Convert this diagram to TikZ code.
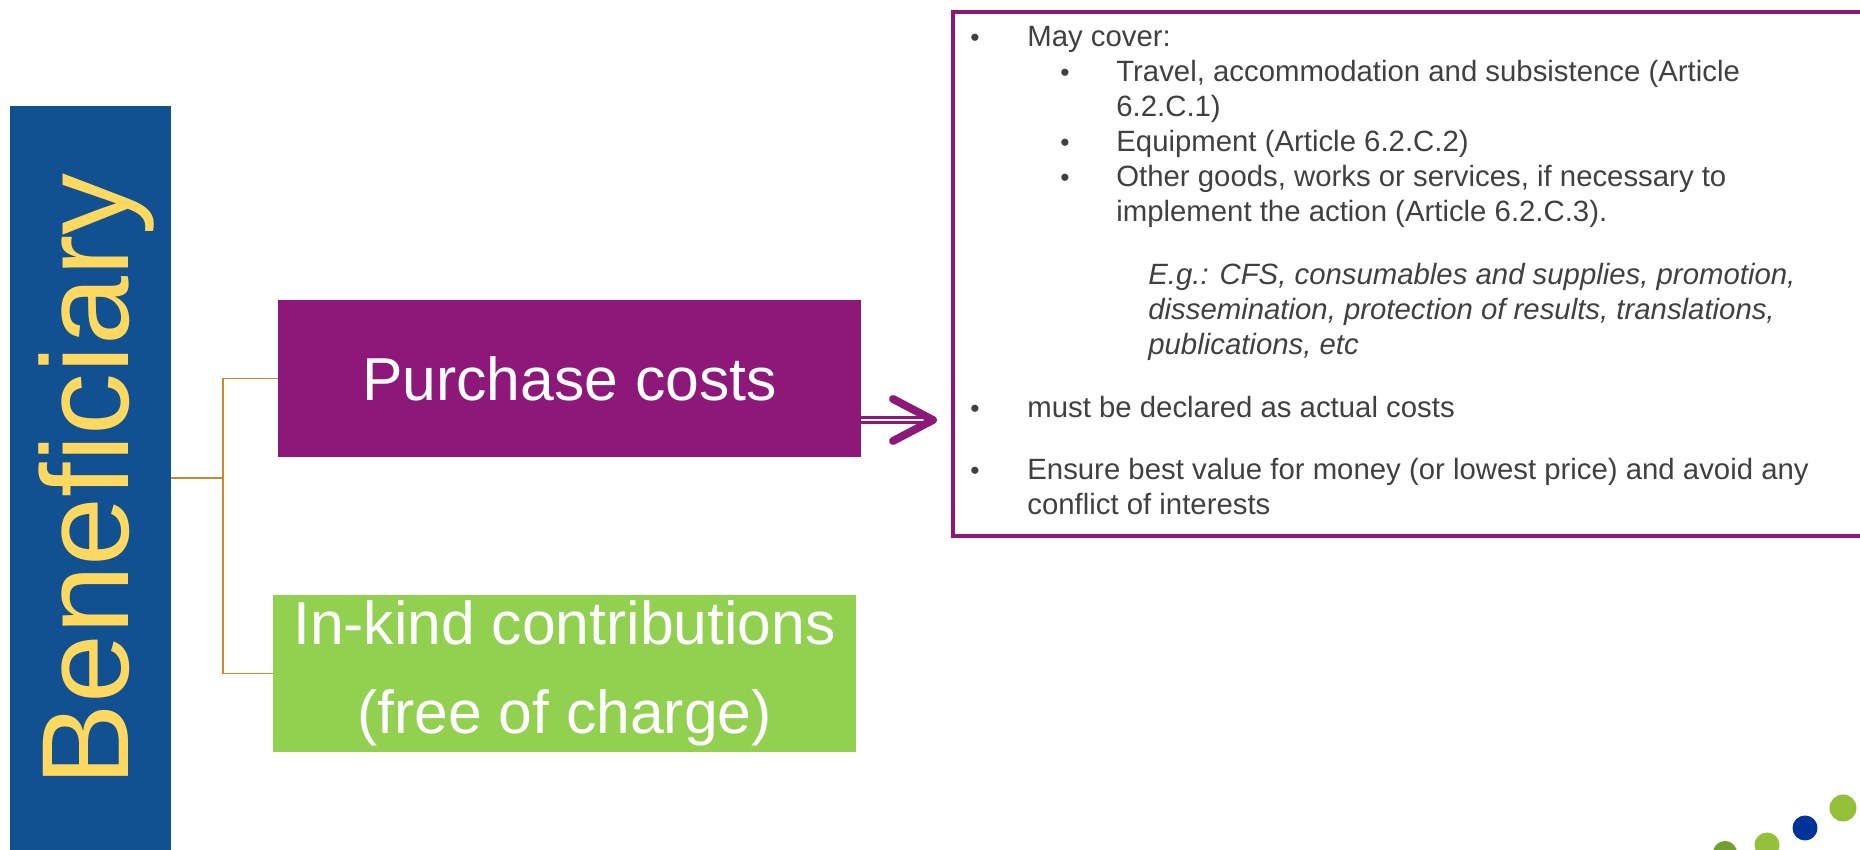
\documentclass[tikz,border=0pt]{standalone}
\usepackage{fontspec}
\setmainfont{Liberation Sans}
\usepackage{xcolor}
\usepackage{tikz}

\definecolor{benblue}{RGB}{17,81,145}
\definecolor{benyellow}{RGB}{255,217,95}
\definecolor{costpurple}{RGB}{142,24,122}
\definecolor{kindgreen}{RGB}{146,208,80}
\definecolor{linkorange}{RGB}{204,136,44}
\definecolor{infogray}{RGB}{64,64,64}
\definecolor{logogreen}{RGB}{149,192,58}
\definecolor{logodark}{RGB}{112,160,48}
\definecolor{logoblue}{RGB}{0,51,153}

\tikzset{
	costbox/.style={rectangle, minimum width=11.66cm, minimum height=3.14cm, inner sep=0pt, text=white, align=center, font=\fontsize{34.5}{51}\selectfont},
	link/.style={draw=linkorange, line width=1.1pt},
	infoline/.style={anchor=base west, inner sep=0pt, text=infogray, font=\fontsize{16.7}{19.85}\selectfont},
	egline/.style={infoline, font=\fontsize{16.7}{19.85}\selectfont\itshape},
	bul/.style={anchor=base, inner sep=0pt, text=infogray, font=\fontsize{15}{17}\selectfont},
}

\begin{document}
\begin{tikzpicture}
	\useasboundingbox (0,0) rectangle (37.2,17);
	% left bar
	\node[fill=benblue, minimum width=3.22cm, minimum height=14.88cm, inner sep=0pt] (bar) at (1.81,7.44) {};
	\node[rotate=90, anchor=base, inner sep=0pt, text=benyellow, font=\fontsize{70.5}{80}\selectfont] (ben) at (2.56,7.4) {Beneficiary};
	% the two kinds of costs
	\node[costbox, fill=costpurple] (pc) at (11.39,9.43) {Purchase costs};
	\node[costbox, fill=kindgreen] (ik) at (11.29,3.53) {In-kind contributions\\(free of charge)};
	\coordinate (jn) at (4.46,7.44);
	\draw[link] (bar.east) -- (jn);
	\draw[link] (jn) |- (pc.west);
	\draw[link] (jn) |- (ik.west);
	% info box and arrow
	\node[draw=costpurple, line width=2pt, minimum width=18.24cm, minimum height=10.48cm] (info) at (28.18,11.52) {};
	\coordinate (tip) at (18.66,8.6);
	\draw[costpurple, double=white, double distance=1.7pt, line width=1.7pt] (pc.east |- tip) -- ([xshift=-2pt]tip);
	\draw[costpurple, line width=4.5pt, line cap=round, line join=round] ([shift={(-0.8,0.42)}]tip) -- (tip) -- ([shift={(-0.8,-0.42)}]tip);
	% text of the info box
	\node[bul] (b1) at (19.5,16.07) {\textbullet};
	\node[infoline] (cover) at (20.54,16.06) {May cover:};
	\node[bul] (b2) at (21.3,15.37) {\textbullet};
	\node[infoline] (trav) at (22.32,15.36) {Travel, accommodation and subsistence (Article};
	\node[infoline] (travb) at (22.32,14.66) {6.2.C.1)};
	\node[bul] (b3) at (21.3,13.97) {\textbullet};
	\node[infoline] (equip) at (22.32,13.96) {Equipment (Article 6.2.C.2)};
	\node[bul] (b4) at (21.3,13.27) {\textbullet};
	\node[infoline] (other) at (22.32,13.26) {Other goods, works or services, if necessary to};
	\node[infoline] (otherb) at (22.32,12.56) {implement the action (Article 6.2.C.3).};
	\node[egline] (eg) at (22.96,11.30) {E.g.: CFS, consumables and supplies, promotion,};
	\node[egline] (egb) at (22.96,10.60) {dissemination, protection of results, translations,};
	\node[egline] (egc) at (22.96,9.90) {publications, etc};
	\node[bul] (b5) at (19.5,8.65) {\textbullet};
	\node[infoline] (actual) at (20.54,8.64) {must be declared as actual costs};
	\node[bul] (b6) at (19.5,7.41) {\textbullet};
	\node[infoline] (value) at (20.54,7.40) {Ensure best value for money (or lowest price) and avoid any};
	\node[infoline] (valueb) at (20.54,6.70) {conflict of interests};
	% logo dots
	\fill[logodark] (34.5,-0.06) circle (0.24);
	\fill[logogreen] (35.34,0.1) circle (0.25);
	\fill[logoblue] (36.1,0.44) circle (0.25);
	\fill[logogreen] (36.86,0.84) circle (0.27);
\end{tikzpicture}
\end{document}
